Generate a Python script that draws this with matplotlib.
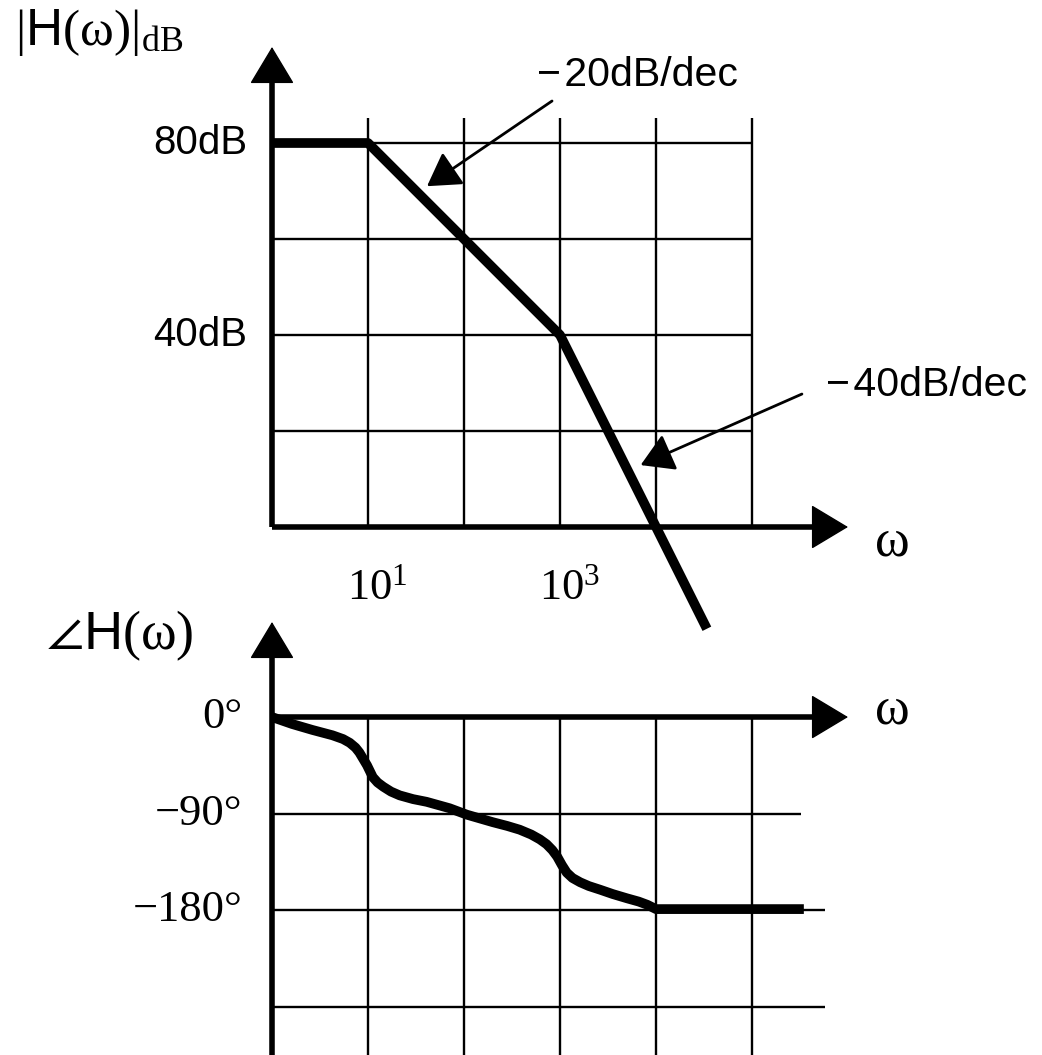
import numpy as np
import matplotlib
matplotlib.use("Agg")
import matplotlib.pyplot as plt

plt.rcParams['mathtext.fontset'] = 'custom'
plt.rcParams['mathtext.rm'] = 'Liberation Serif'
plt.rcParams['mathtext.it'] = 'Liberation Serif:italic'
plt.rcParams['mathtext.sf'] = 'Liberation Sans'
plt.rcParams['mathtext.fallback'] = 'stix'

# asymptotic magnitude: flat 80 dB, -20 dB/dec from 10^1, -40 dB/dec from 10^3
mag_exp = [0.0, 1.0, 3.0, 4.53]
mag_db = [80, 80, 40, -21.2]

# phase curve (log10 of omega, degrees)
phase_exp = [0.0, 0.21, 0.42, 0.63, 0.74, 0.81, 0.87, 0.91, 0.95, 0.99, 1.05, 1.1,
             1.16, 1.24, 1.33, 1.47, 1.61, 1.85, 2.03, 2.3, 2.45, 2.58, 2.7, 2.79,
             2.86, 2.92, 2.97, 3.02, 3.07, 3.13, 3.21, 3.3, 3.42, 3.55, 3.7, 3.82,
             3.91, 4.0, 5.54]
phase_deg = [0, -6.5, -12, -17, -20.5, -24, -28.5, -33, -39, -45, -56, -61,
             -65, -69.5, -73, -76.5, -79, -85, -91, -98, -101.5, -105, -109.5, -114,
             -118.5, -124, -130, -138, -145, -150, -154, -157.5, -161, -165, -169, -172,
             -175, -179, -179]

mag_ticks = [80, 40]
mag_tick_labels = ['80dB', '40dB']
phase_ticks = [0, -90, -180]
phase_tick_labels = ['0°', '−90°', '−180°']
decade_labels = {1: r'$10^{1}$', 3: r'$10^{3}$'}

W, H = 1042, 1055


def rect(left, top, right, bottom):
    return [left / W, 1 - bottom / H, (right - left) / W, (bottom - top) / H]


def axis_arrows(ax, y0):
    # axis lines with filled triangular heads
    ax.plot([0, 0.95], [y0, y0], transform=ax.transAxes, color='k', lw=4,
            solid_capstyle='butt', clip_on=False)
    ax.plot([0, 0], [0, 0.95], transform=ax.transAxes, color='k', lw=4,
            solid_capstyle='butt', clip_on=False)
    head = dict(arrowstyle='-|>,head_length=1.75,head_width=1.05', mutation_scale=14,
                lw=1, fc='k', ec='k', shrinkA=0, shrinkB=0)
    ax.annotate('', xy=(1, y0), xytext=(0.9, y0), xycoords='axes fraction',
                arrowprops=head)
    ax.annotate('', xy=(0, 1), xytext=(0, 0.9), xycoords='axes fraction',
                arrowprops=head)


fig = plt.figure(figsize=(W / 100, H / 100), dpi=100)
fig.patch.set_facecolor('white')

sans = ['Liberation Sans', 'DejaVu Sans']
serif = ['Liberation Serif', 'DejaVu Serif']

# ---------------- magnitude ----------------
ax1 = fig.add_axes(rect(272, 47, 848, 527))
ax1.set_xscale('log')
ax1.set_xlim(1, 1e6)
ax1.set_ylim(0, 100)
ax1.axis('off')

decades = [10.0 ** k for k in range(1, 6)]
ax1.vlines(decades, 0, 85.2, color='k', lw=1.7)
ax1.hlines([20, 40, 60, 80], 1, 1e5, color='k', lw=1.7)
axis_arrows(ax1, 0.0)

ax1.plot(10.0 ** np.array(mag_exp), mag_db, color='k', lw=7,
         solid_capstyle='butt', clip_on=False, zorder=5)

for v, lab in zip(mag_ticks, mag_tick_labels):
    ax1.text(10 ** -0.26, v, lab, ha='right', va='center', fontsize=29, family=sans)
for k, lab in decade_labels.items():
    ax1.text(10 ** (k + 0.1), -12.5, lab, ha='center', va='center', fontsize=32)
ax1.text(10 ** 6.46, -3.3, 'ω', ha='center', va='center', fontsize=38, family=serif)

slope = dict(arrowstyle='-|>,head_length=2.0,head_width=1.2', mutation_scale=10,
             lw=2, fc='k', ec='k', shrinkA=0, shrinkB=0)
ax1.annotate('', xy=(10 ** 1.615, 71.0), xytext=(10 ** 2.917, 88.75), arrowprops=slope)
ax1.annotate('', xy=(10 ** 3.84, 12.9), xytext=(10 ** 5.52, 27.7), arrowprops=slope)
ax1.text(10 ** 2.76, 94.2, '−\u200a20dB/dec', ha='left', va='center', fontsize=29.5,
         family=sans)
ax1.text(10 ** 5.77, 29.6, '−\u200a40dB/dec', ha='left', va='center', fontsize=29.5,
         family=sans)

fig.text(15 / W, 1 - 33 / H, r'$\mathrm{|}\mathsf{H}\mathrm{(ω)|}_{\mathrm{dB}}$',
         ha='left', va='center', fontsize=37)

# ---------------- phase ----------------
ax2 = fig.add_axes(rect(272, 622, 848, 1055))
ax2.set_xscale('log')
ax2.set_xlim(1, 1e6)
ax2.set_ylim(-315, 88.6)
ax2.axis('off')

ax2.vlines(decades, -315, 0, color='k', lw=1.7)
ax2.hlines(-90, 1, 10 ** 5.51, color='k', lw=1.7)
ax2.hlines([-180, -270], 1, 10 ** 5.76, color='k', lw=1.7)
axis_arrows(ax2, 315 / (315 + 88.6))

ax2.plot(10.0 ** np.array(phase_exp), phase_deg, color='k', lw=7,
         solid_joinstyle='round', solid_capstyle='butt', zorder=5)

for v, lab in zip(phase_ticks, phase_tick_labels):
    ax2.text(10 ** -0.31, v, lab, ha='right', va='center', fontsize=32, family=serif)
ax2.text(10 ** 6.46, 6.5, 'ω', ha='center', va='center', fontsize=38, family=serif)

fig.text(46 / W, 1 - 636 / H, r'$\angle\mathsf{H}\mathrm{(ω)}$', ha='left',
         va='center', fontsize=39)

fig.savefig('out.png', dpi=100, facecolor='white')
